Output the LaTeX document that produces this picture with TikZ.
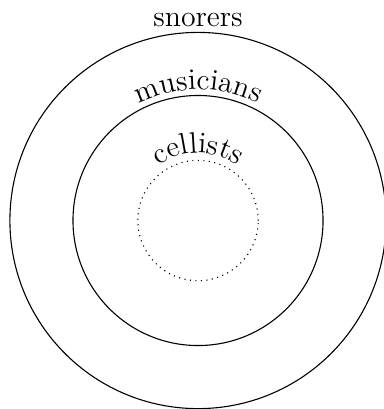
\documentclass[tikz,border=0pt]{standalone}
\usetikzlibrary{decorations.text}
\newcommand{\setlabelfont}{\fontsize{13.5}{16}\selectfont}

\begin{document}
\begin{tikzpicture}[
        font=\setlabelfont,
        setline/.style={line width=0.5pt, draw=black},
        subsetline/.style={line width=0.5pt, draw=black, dotted},
        arclabel/.style={
            decorate,
            decoration={text along path, text={|\setlabelfont|#1}, text align=center}
        }
    ]
        \useasboundingbox (-3.158,-3.006) rectangle (2.966,3.517);

        % nested sets
        \draw[setline] (0,0) circle[radius=3.0];
        \draw[setline] (0,0) circle[radius=1.994];
        \draw[subsetline] (0,0) circle[radius=0.96];

        \node[anchor=base, inner sep=0pt] (snorers) at (0,3.09) {snorers};
        \path[arclabel={musicians}] (180:2.09) arc[start angle=180, end angle=0, radius=2.09];
        \path[arclabel={cellists}] (180:1.08) arc[start angle=180, end angle=0, radius=1.08];
    \end{tikzpicture}
\end{document}
